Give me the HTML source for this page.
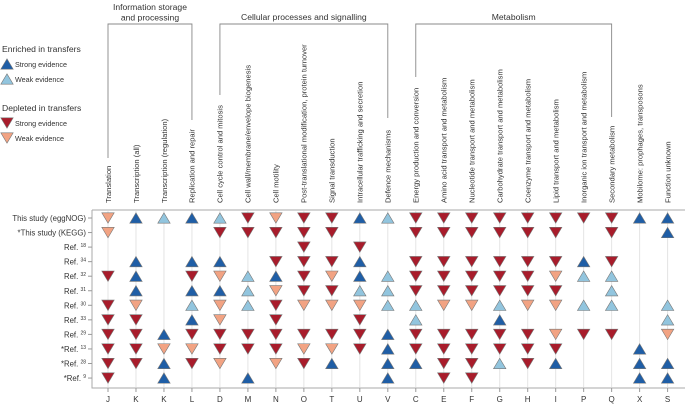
<!DOCTYPE html>
<html><head><meta charset="utf-8"><style>
body{margin:0;background:#fff;width:685px;height:405px;overflow:hidden;font-family:"Liberation Sans",sans-serif}
</style></head><body>
<svg id="c" width="685" height="405" xmlns="http://www.w3.org/2000/svg" font-family="Liberation Sans, sans-serif"></svg>
<script>
const colCodes=["J","K","K","L","D","M","N","O","T","U","V","C","E","F","G","H","I","P","Q","X","S"];
const colNames=["Translation","Transcription (all)","Transcription (regulation)","Replication and repair","Cell cycle control and mitosis","Cell wall/membrane/envelope biogenesis","Cell motility","Post-translational modification, protein turnover","Signal transduction","Intracellular trafficking and secretion","Defence mechanisms","Energy production and conversion","Amino acid transport and metabolism","Nucleotide transport and metabolism","Carbohydrate transport and metabolism","Coenzyme transport and metabolism","Lipid transport and metabolism","Inorganic ion transport and metabolism","Secondary metabolism","Mobilome: prophages, transposons","Function unknown"];
const rowLabels=["This study (eggNOG)","*This study (KEGG)","Ref.","Ref.","Ref.","Ref.","Ref.","Ref.","Ref.","*Ref.","*Ref.","*Ref."];
const rowSups=["","","18","34","32","31","30","33","29","13","28","9"];
// 0 none, 1 strong enriched, 2 weak enriched, 3 strong depleted, 4 weak depleted
const values=[
[4,1,2,1,2,3,4,3,3,1,2,3,3,3,3,3,3,3,3,1,1],
[4,0,0,0,3,3,3,3,3,0,0,3,3,3,3,3,3,0,3,0,1],
[0,0,0,0,0,0,0,3,0,3,0,0,0,0,0,0,0,0,0,0,0],
[0,1,0,1,1,0,3,3,3,1,0,3,3,3,3,3,3,1,3,0,0],
[3,1,0,3,4,2,1,3,4,1,2,3,3,3,3,3,4,2,2,0,0],
[0,1,0,1,1,2,4,3,3,2,2,3,3,3,3,3,3,0,2,0,0],
[3,4,0,2,4,2,3,4,4,4,2,2,4,4,2,4,4,2,2,0,2],
[3,3,0,1,4,0,3,0,0,3,0,2,0,0,1,0,0,0,0,0,2],
[3,3,1,3,3,3,3,3,3,3,1,3,3,3,3,3,4,3,3,0,4],
[3,3,4,4,3,3,3,4,4,3,1,3,3,3,3,3,3,0,0,1,0],
[3,3,1,3,4,0,4,3,1,0,1,1,3,3,2,3,1,0,0,1,1],
[3,0,1,0,0,1,0,0,0,0,1,0,3,3,0,0,0,0,0,1,1]];
const groups=[{t:["Information storage","and processing"],a:0,b:3,ha:158,hb:120},{t:["Cellular processes and signalling"],a:4,b:10,ha:95,hb:118},{t:["Metabolism"],a:11,b:18,ha:77,hb:117}];

const svg=document.getElementById('c');const NS="http://www.w3.org/2000/svg";
function el(t,a,p){const e=document.createElementNS(NS,t);for(const k in a)e.setAttribute(k,a[k]);(p||svg).appendChild(e);return e;}
const x=i=>108+i*27.98, y=j=>218+j*14.55;
const fills=["","#1f5ea6","#92c5de","#a81c2b","#f2a383"];
function tri(cx,cy,t,parent){
  const w=6.2,h=5.2;
  const pts=(t<=2)?`${cx-w},${cy+h} ${cx+w},${cy+h} ${cx},${cy-h}`:`${cx-w},${cy-h} ${cx+w},${cy-h} ${cx},${cy+h}`;
  return el('polygon',{points:pts,fill:fills[t],stroke:"#777","stroke-width":0.6},parent);
}
let f=el('path',{d:"M92,210 H685 M92,210 V388 H685",stroke:"#aaa",fill:"none","stroke-width":1});

colCodes.forEach((c,i)=>{
  let g=el('line',{x1:x(i),x2:x(i),y1:211,y2:387,stroke:"#e4e4e4","stroke-width":1});
  
  el('line',{x1:x(i),x2:x(i),y1:388,y2:392,stroke:"#999"});
  let t=el('text',{x:x(i),y:402,"font-size":8,"text-anchor":"middle",fill:"#333"});t.textContent=c;
  
  let n=el('text',{transform:`translate(${x(i)+2.8},203) rotate(-90)`,"font-size":7.6,fill:"#333"});n.textContent=colNames[i];
  
});
rowLabels.forEach((r,j)=>{
  el('line',{x1:88,x2:92,y1:y(j),y2:y(j),stroke:"#999"});
  let t=el('text',{x:86,y:y(j)+3,"font-size":7.8,"text-anchor":"end",fill:"#333"});
  
  if(rowSups[j]){t.textContent=r+" ";let s=el('tspan',{"font-size":5,dy:-3},t);s.textContent=rowSups[j];}
  else t.textContent=r;
});
values.forEach((row,j)=>row.forEach((v,i)=>{
  if(!v)return;
  let m=tri(x(i),y(j),v);
  
}));
groups.forEach(g=>{
  const xa=x(g.a),xb=x(g.b);
  let p=el('path',{d:`M${xa},${g.ha} V24 H${xb} V${g.hb}`,stroke:"#888",fill:"none","stroke-width":0.9});
  
  g.t.forEach((s,k)=>{
    let t=el('text',{x:(xa+xb)/2,y:g.t.length==2?10+k*10.5:20,"font-size":8.6,"text-anchor":"middle",fill:"#333"});t.textContent=s;
    
  });
});
const leg=[[52,"Enriched in transfers",0],[67,"Strong evidence",1],[82,"Weak evidence",2],[111,"Depleted in transfers",0],[126,"Strong evidence",3],[141,"Weak evidence",4]];
leg.forEach(l=>{
  if(l[2]===0){let t=el('text',{x:2,y:l[0],"font-size":8.6,fill:"#333"});t.textContent=l[1];
    }
  else{let m=tri(7,l[0]-3,l[2]);
    let t=el('text',{x:15,y:l[0],"font-size":7.2,fill:"#333"});t.textContent=l[1];
    }
});
</script>
</body></html>
